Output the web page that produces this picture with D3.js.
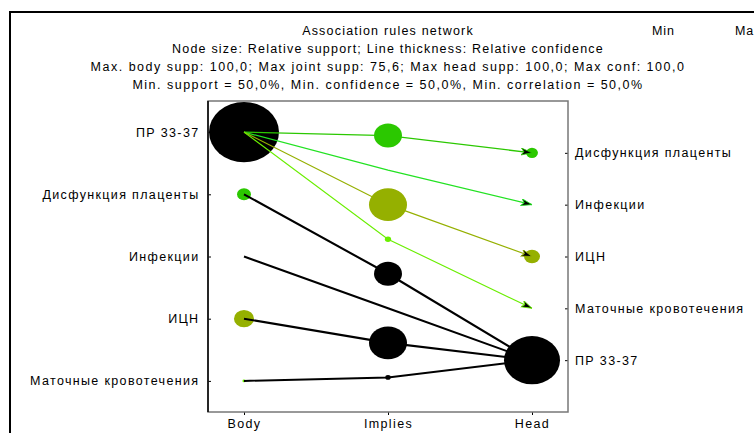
<!DOCTYPE html>
<html>
<head>
<meta charset="utf-8">
<script src="https://cdn.jsdelivr.net/npm/d3@7"></script>
<style>
  html, body { margin: 0; padding: 0; background: #fff; }
  svg { display: block; }
  text { font-family: "Liberation Sans", Arial, sans-serif; fill: #000; }
</style>
</head>
<body>
<svg id="chart" width="754" height="433"></svg>
<script>
// Association rules network (STATISTICA-style)

const titleLines = [
    "Association rules network",
    "Node size: Relative support; Line thickness: Relative confidence",
    "Max. body supp: 100,0; Max joint supp: 75,6; Max head supp: 100,0; Max conf: 100,0",
    "Min. support = 50,0%, Min. confidence = 50,0%, Min. correlation = 50,0%"
];

const columns = ["Body", "Implies", "Head"];

const bodyItems = ["ПР 33-37", "Дисфункция плаценты", "Инфекции", "ИЦН", "Маточные кровотечения"];
const bodySupport = [100, 4.0, 0, 8.2, 0.2];
const bodyCorr = [100, 75, 100, 85, 55];

const headItems = ["Дисфункция плаценты", "Инфекции", "ИЦН", "Маточные кровотечения", "ПР 33-37"];
const headSupport = [2.9, 0, 5.2, 0, 64];
const headCorr = [75, 65, 85, 55, 100];

// one entry per rule (body -> head)
const ruleBody = ["ПР 33-37", "ПР 33-37", "ПР 33-37", "ПР 33-37",
    "Дисфункция плаценты", "Инфекции", "ИЦН", "Маточные кровотечения"];
const ruleHead = ["Дисфункция плаценты", "Инфекции", "ИЦН", "Маточные кровотечения",
    "ПР 33-37", "ПР 33-37", "ПР 33-37", "ПР 33-37"];
const ruleSupport = [16, 0, 29.5, 0.8, 16, 0, 29.5, 0.6];
const ruleConf = [62, 56, 55, 52, 100, 100, 100, 96];
const ruleCorr = [75, 65, 85, 55, 100, 100, 100, 100];

const plot = { left: 208, top: 101, right: 568, bottom: 412 };

const svg = d3.select("#chart");

// outer frame (runs off the picture at right and bottom)
svg.append("rect")
    .attr("x", 10).attr("y", 12)
    .attr("width", 800).attr("height", 500)
    .attr("fill", "none")
    .attr("stroke", "#000")
    .attr("stroke-width", 2);

// titles
svg.selectAll("text.title")
    .data(titleLines)
    .enter().append("text")
    .attr("class", "title")
    .attr("x", 388)
    .attr("y", (d, i) => 35 + i * 18)
    .attr("text-anchor", "middle")
    .attr("font-size", "12.5px")
    .attr("letter-spacing", (d, i) => i < 2 ? "1.2px" : "1.5px")
    .text(d => d);

// colour legend header (cut off in the original)
svg.append("text").attr("x", 652).attr("y", 35)
    .attr("font-size", "12.5px").attr("letter-spacing", "0.9px").text("Min");
svg.append("text").attr("x", 735).attr("y", 35)
    .attr("font-size", "12.5px").attr("letter-spacing", "0.9px").text("Max");

/* --- Scales --- */
const x = d3.scalePoint().domain(columns).range([plot.left, plot.right]).padding(0.25);
const yBody = d3.scalePoint().domain(bodyItems).range([plot.top, plot.bottom]).padding(0.5);
const yHead = d3.scalePoint().domain(headItems).range([plot.top, plot.bottom]).padding(1);
const yRule = d3.scalePoint().domain(d3.range(ruleBody.length)).range([plot.top, plot.bottom]).padding(1);

const rScale = d3.scaleSqrt().domain([0, 100]).range([0, 35]);
const aspect = 0.86; // nodes drawn slightly flattened
const wScale = d3.scaleLinear().domain([50, 100]).range([1.1, 2.1]);
const color = d3.scaleThreshold()
    .domain([60, 70, 80, 90])
    .range(["#6aee00", "#22e222", "#2bc800", "#95b000", "#000000"]);

/* --- Axes --- */
const fontSize = "12.5px";

const gLeft = svg.append("g")
    .attr("transform", `translate(${plot.left},0)`)
    .call(d3.axisLeft(yBody).tickSizeInner(-3).tickSizeOuter(0).tickPadding(8.5));
const gRight = svg.append("g")
    .attr("transform", `translate(${plot.right},0)`)
    .call(d3.axisRight(yHead).tickSizeInner(-3).tickSizeOuter(0).tickPadding(7));
const gBottom = svg.append("g")
    .attr("transform", `translate(0,${plot.bottom})`)
    .call(d3.axisBottom(x).tickSizeInner(3).tickSizeOuter(0).tickPadding(4));

[gLeft, gRight, gBottom].forEach(g => {
    g.attr("font-family", null);
    g.select(".domain").remove();
    g.selectAll(".tick line").attr("stroke", "#000");
    g.selectAll("text")
        .attr("font-size", fontSize)
        .attr("letter-spacing", "1.35px")
        .attr("fill", "#000");
});

// plot frame
svg.append("rect")
    .attr("x", plot.left).attr("y", plot.top)
    .attr("width", plot.right - plot.left)
    .attr("height", plot.bottom - plot.top)
    .attr("fill", "none")
    .attr("stroke", "#777")
    .attr("stroke-width", 1.5);
svg.append("line")
    .attr("x1", plot.left).attr("x2", plot.left)
    .attr("y1", plot.top).attr("y2", plot.bottom)
    .attr("stroke", "#000").attr("stroke-width", 1.5);

/* --- Nodes & links --- */
function drawNodes(g, items, support, corr, cx, yScale) {
    g.selectAll("ellipse")
        .data(items.map((d, i) => ({ name: d, s: support[i], c: corr[i] })).filter(d => d.s > 0))
        .enter().append("ellipse")
        .attr("cx", cx)
        .attr("cy", d => yScale(d.name))
        .attr("rx", d => rScale(d.s))
        .attr("ry", d => rScale(d.s) * aspect)
        .attr("fill", d => color(d.c));
}

drawNodes(svg.append("g"), bodyItems, bodySupport, bodyCorr, x("Body"), yBody);
drawNodes(svg.append("g"), headItems, headSupport, headCorr, x("Head"), yHead);

const rules = ruleBody.map((b, i) => ({
    i,
    body: b,
    head: ruleHead[i],
    supp: ruleSupport[i],
    conf: ruleConf[i],
    corr: ruleCorr[i]
}));

const defs = svg.append("defs");
rules.forEach(r => {
    defs.append("marker")
        .attr("id", "arrow" + r.i)
        .attr("markerUnits", "userSpaceOnUse")
        .attr("markerWidth", 14).attr("markerHeight", 10)
        .attr("refX", 11).attr("refY", 3.5)
        .attr("orient", "auto")
        .append("path")
        .attr("d", "M0,0L11,3.5L0,7L3,3.5Z")
        .attr("fill", "#000")
        .attr("stroke", color(r.corr))
        .attr("stroke-width", 0.8);
});

const line = d3.line();

svg.append("g").selectAll("path")
    .data(rules)
    .enter().append("path")
    .attr("d", r => line([
        [x("Body"), yBody(r.body)],
        [x("Implies"), yRule(r.i)],
        [x("Head"), yHead(r.head)]
    ]))
    .attr("fill", "none")
    .attr("stroke", r => color(r.corr))
    .attr("stroke-width", r => wScale(r.conf))
    .attr("marker-end", r => `url(#arrow${r.i})`);

svg.append("g").selectAll("ellipse")
    .data(rules.filter(r => r.supp > 0))
    .enter().append("ellipse")
    .attr("cx", x("Implies"))
    .attr("cy", r => yRule(r.i))
    .attr("rx", r => rScale(r.supp))
    .attr("ry", r => rScale(r.supp) * aspect)
    .attr("fill", r => color(r.corr));
</script>
</body>
</html>
